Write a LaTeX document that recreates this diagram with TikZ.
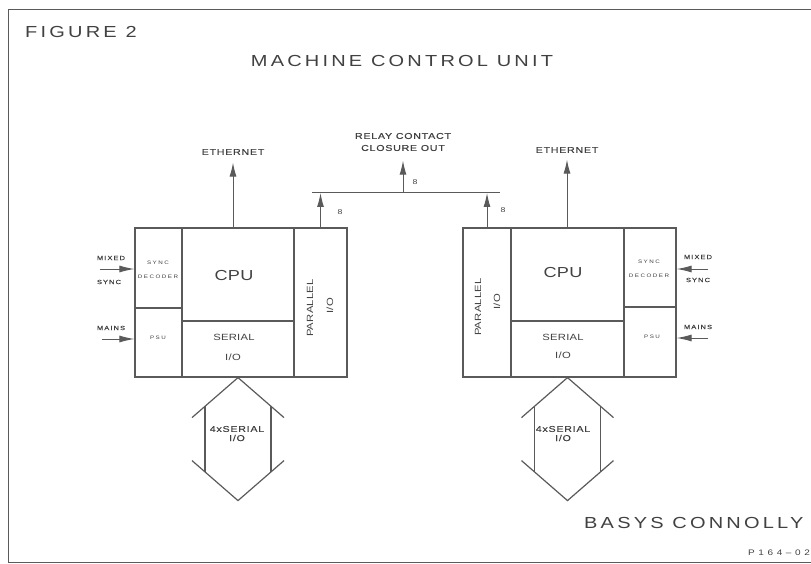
\documentclass[tikz,border=0pt]{standalone}
\usepackage{fontspec}
\setmainfont{Liberation Sans}
\usetikzlibrary{arrows.meta}
\definecolor{ink}{RGB}{65,65,65}
\definecolor{pen}{RGB}{90,90,90}
\newcommand{\fnt}[3]{\fontsize{#1}{#2}\selectfont\addfontfeature{FakeStretch=1.25,LetterSpace=#3}}
\newcommand{\fntb}[3]{\fontsize{#1}{#2}\selectfont\addfontfeature{FakeStretch=1.25,FakeBold=0.5,LetterSpace=#3}}
\begin{document}
\begin{tikzpicture}[x=1pt,y=-1pt,
  cell/.style={draw=pen,line width=1.2pt,inner sep=0pt},
  lab/.style={text=ink,inner sep=0pt,align=center},
  ttl/.style={lab,font=\fnt{16}{18}{20}},
  big/.style={lab,font=\fnt{14.5}{16}{2}},
  mid/.style={lab,font=\fnt{9}{11}{3}},
  sml/.style={lab,font=\fntb{8.5}{10}{9}},
  tny/.style={lab,font=\fntb{6}{7}{18}},
  bit/.style={lab,font=\fnt{7}{8}{0}},
  mic/.style={lab,font=\fnt{5}{6}{30}},
  ln/.style={draw=pen,line width=1pt},
  arr/.style={ln,-{Latex[length=14pt,width=7pt]}},
  harr/.style={ln,-{Latex[length=15pt,width=7pt]}}]
\useasboundingbox (0,0) rectangle (811,564);
% frame
\draw[pen,line width=1pt] (815,10) -- (8,10) -- (8,562) -- (815,562);
% titles
\node[ttl,anchor=west] (fig) at (25,32) {FIGURE 2};
\node[ttl] (title) at (402,61) {MACHINE CONTROL UNIT};
\node[ttl,anchor=west] (basys) at (584,523) {BASYS CONNOLLY};
\node[lab,font=\fnt{8}{9}{45},anchor=west] (ref) at (748,553) {P164--02};
% left unit
\node[cell,minimum width=47,minimum height=80] (syncL) at (158.5,268) {};
\node[cell,minimum width=47,minimum height=69] (psuL) at (158.5,342.5) {};
\node[cell,minimum width=112,minimum height=93] (cpuL) at (238,274.5) {};
\node[cell,minimum width=112,minimum height=56] (serL) at (238,349) {};
\node[cell,minimum width=53,minimum height=149] (parL) at (320.5,302.5) {};
% right unit
\node[cell,minimum width=48,minimum height=149] (parR) at (487,302.5) {};
\node[cell,minimum width=113,minimum height=93] (cpuR) at (567.5,274.5) {};
\node[cell,minimum width=113,minimum height=56] (serR) at (567.5,349) {};
\node[cell,minimum width=52,minimum height=79] (syncR) at (650,267.5) {};
\node[cell,minimum width=52,minimum height=70] (psuR) at (650,342) {};
% texts in left unit
\node[big] (cpuLt) at (234,276) {CPU};
\node[mid] (serLa) at (234,337) {SERIAL};
\node[mid] (serLb) at (233,357) {I/O};
\node[mid,rotate=90] (parLa) at (310,308) {PARALLEL};
\node[mid,rotate=90] (parLb) at (330,306) {I/O};
\node[mic] (syncLa) at (158,263) {SYNC};
\node[mic] (syncLb) at (158,277) {DECODER};
\node[mic] (psuLt) at (158,338) {PSU};
\node[tny] (mixLa) at (111,258) {MIXED};
\node[tny] (mixLb) at (109,282) {SYNC};
\node[tny] (mainsL) at (111,328) {MAINS};
% texts in right unit
\node[big] (cpuRt) at (563,273) {CPU};
\node[mid] (serRa) at (563,337) {SERIAL};
\node[mid] (serRb) at (563,355) {I/O};
\node[mid,rotate=90] (parRa) at (478,307) {PARALLEL};
\node[mid,rotate=90] (parRb) at (497,302) {I/O};
\node[mic] (syncRa) at (649,262) {SYNC};
\node[mic] (syncRb) at (649,276) {DECODER};
\node[mic] (psuRt) at (652,337) {PSU};
\node[tny] (mixRa) at (698,257) {MIXED};
\node[tny] (mixRb) at (698,280) {SYNC};
\node[tny] (mainsR) at (698,327) {MAINS};
% top labels
\node[sml] (ethLt) at (233,152) {ETHERNET};
\node[sml] (ethRt) at (567,150) {ETHERNET};
\node[sml] (relay) at (403,136) {RELAY CONTACT};
\node[sml] (closure) at (403,148) {CLOSURE OUT};
\node[bit] (b1) at (415,182) {8};
\node[bit] (b2) at (340,212) {8};
\node[bit] (b3) at (503,210) {8};
% ethernet arrows
\draw[arr,shorten >=7.5pt] (ethLt.south |- cpuL.north) -- (ethLt.south);
\draw[arr,shorten >=6.5pt] (ethRt.south |- cpuR.north) -- (ethRt.south);
% relay bus
\coordinate (busL) at (312,193);
\coordinate (busR) at (500,193);
\coordinate (busM) at (403,193);
\draw[ln] (busL) -- (busR);
\draw[arr] (parL.north) -- (parL.north |- busL);
\draw[arr] (parR.north) -- (parR.north |- busR);
\draw[arr,shorten >=9.5pt] (busM) -- (closure.south);
% sync and mains inputs
\coordinate (mixLin) at (100,269);
\coordinate (mainsLin) at (102,339);
\coordinate (mixRin) at (708,269);
\coordinate (mainsRin) at (708,338);
\draw[harr] (mixLin) -- (mixLin -| syncL.west);
\draw[harr] (mainsLin) -- (mainsLin -| psuL.west);
\draw[harr] (mixRin) -- (mixRin -| syncR.east);
\draw[harr] (mainsRin) -- (mainsRin -| psuR.east);
% 4x serial double arrows
\foreach \s in {serL,serR}{
  \begin{scope}[shift={(\s.south)}]
    \draw[pen,line width=1.2pt] (-46,40) -- (0,0) -- (46,40);
    \draw[pen,line width=1.2pt] (-33,28.7) -- (-33,94.3);
    \draw[pen,line width=1.2pt] (33,28.7) -- (33,94.3);
    \draw[pen,line width=1.2pt] (-46,83) -- (0,123) -- (46,83);
  \end{scope}
}
\node[sml] (hexLa) at (237,429) {4xSERIAL};
\node[sml] (hexLb) at (237,438) {I/O};
\node[sml] (hexRa) at (563,429) {4xSERIAL};
\node[sml] (hexRb) at (563,438) {I/O};
\end{tikzpicture}
\end{document}
